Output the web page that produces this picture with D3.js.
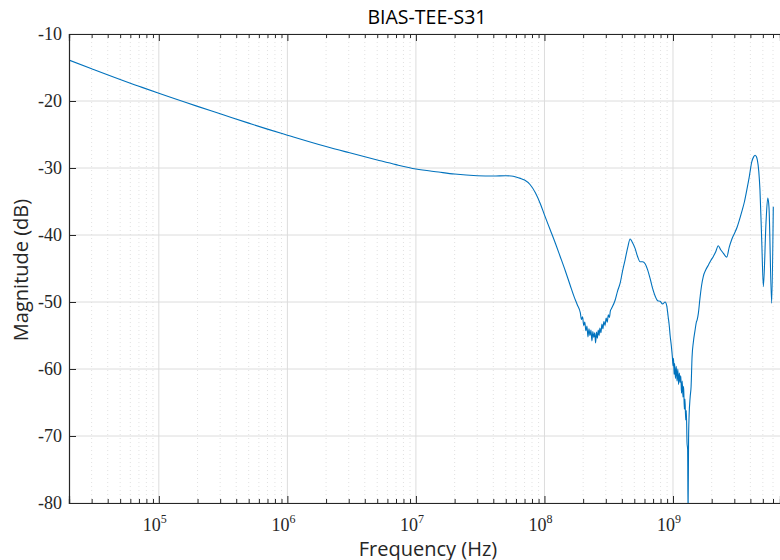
<!DOCTYPE html>
<head>
    <meta charset="utf-8">
    <title>BIAS-TEE-S31</title>
    <script src="https://d3js.org/d3.v7.min.js"></script>
    <style>
        body { margin: 0; background: #fff; }
    </style>
</head>
<body>
    <svg class="chart" width="780" height="560"></svg>
    <script>
        // frequency (Hz) and magnitude (dB)
        var freq = [2e4, 3e4, 5e4, 7e4, 1e5, 2e5, 3e5, 5e5, 7e5, 1e6, 2e6, 3e6, 5e6, 7e6, 1e7, 1.5e7, 2e7,
            3e7, 4e7, 5e7, 5.5e7, 6e7, 6.5e7, 7e7, 7.75e7, 8.5e7, 9.27e7, 1e8, 1.11e8, 1.22e8, 1.325e8,
            1.45e8, 1.585e8, 1.7e8, 1.8e8,
            1.90e8, 1.94e8, 1.98e8, 2.02e8, 2.06e8, 2.10e8, 2.14e8, 2.18e8, 2.22e8, 2.26e8, 2.30e8, 2.34e8,
            2.38e8, 2.42e8, 2.46e8, 2.50e8, 2.54e8, 2.58e8, 2.62e8, 2.66e8, 2.70e8, 2.75e8, 2.80e8, 2.85e8,
            2.90e8, 2.96e8, 3.02e8, 3.08e8, 3.14e8, 3.20e8, 3.26e8, 3.32e8,
            3.55e8, 3.7e8, 3.88e8, 4.05e8, 4.24e8, 4.45e8, 4.64e8, 4.8e8, 5.07e8, 5.3e8, 5.55e8, 5.8e8,
            6.07e8, 6.35e8, 6.64e8, 6.95e8, 7.26e8, 7.6e8, 7.94e8, 8.3e8, 8.68e8, 8.95e8, 9.17e8, 9.35e8,
            9.5e8, 9.7e8, 9.89e8, 1.0e9, 1.01e9, 1.02e9, 1.03e9, 1.045e9, 1.06e9, 1.075e9, 1.09e9, 1.105e9,
            1.12e9, 1.135e9, 1.15e9, 1.165e9, 1.18e9, 1.195e9, 1.21e9, 1.225e9, 1.24e9, 1.255e9, 1.27e9,
            1.286e9, 1.3e9, 1.31e9, 1.322e9, 1.334e9, 1.36e9, 1.383e9, 1.407e9, 1.44e9, 1.485e9, 1.52e9,
            1.54e9, 1.575e9, 1.62e9, 1.67e9, 1.72e9, 1.8e9, 1.883e9, 1.97e9, 2.06e9, 2.15e9, 2.25e9, 2.35e9,
            2.46e9, 2.62e9, 2.74e9, 2.86e9, 3.0e9, 3.13e9, 3.28e9, 3.43e9, 3.6e9, 3.75e9, 3.93e9, 4.1e9,
            4.25e9, 4.35e9, 4.45e9, 4.53e9, 4.65e9, 4.75e9, 4.9e9, 5.05e9, 5.29e9, 5.46e9, 5.58e9, 5.86e9,
            6.03e9];
        var mag = [-13.9, -15.2, -16.8, -17.8, -18.85, -20.8, -21.9, -23.3, -24.2, -25.1, -26.8, -27.7, -28.8,
            -29.5, -30.15, -30.6, -30.9, -31.15, -31.2, -31.15, -31.2, -31.35, -31.55, -31.8, -32.5, -33.7,
            -35.3, -37.0, -39.25, -41.3, -43.2, -45.3, -47.5, -49.2, -50.4,
            -51.6, -52.6, -52.2, -53.5, -53.0, -54.3, -53.6, -55.2, -54.0, -55.0, -54.2, -55.8,
            -54.4, -55.3, -54.6, -56.1, -54.5, -55.4, -54.2, -55.0, -53.9, -54.6, -53.3, -54.0,
            -52.9, -53.5, -52.4, -53.0, -51.9, -52.3, -51.3, -51.0,
            -49.7, -48.4, -47.2, -45.4, -43.7, -41.8, -40.6, -41.0, -42.0, -43.2, -44.0, -44.0,
            -44.3, -45.2, -46.5, -48.0, -49.1, -49.8, -49.9, -50.3, -50.0, -50.6, -52.2, -53.5,
            -55.0, -56.5, -58.2, -59.5, -58.4, -60.8, -59.2, -61.4, -59.6, -61.8, -60.0, -62.3,
            -60.6, -62.0, -61.0, -63.6, -61.8, -64.2, -62.6, -66.0, -64.5, -67.6, -66.2,
            -71.0, -72.0, -82, -70.5, -67.1, -64.2, -62.6, -58.2, -56.0, -54.2, -53.0,
            -52.7, -51.7, -49.5, -47.5, -46.2, -45.2, -44.5, -43.8, -43.2, -42.5, -41.6, -42.2,
            -42.7, -43.3, -41.8, -40.7, -39.8, -39.0, -37.8, -36.5, -35.0, -33.3, -31.2, -29.1,
            -28.3, -28.1, -28.3, -28.8, -30.5, -33.3, -40.7, -47.7, -38.2, -34.5, -35.8, -50.2,
            -35.8];
        var yTicks = [-80, -70, -60, -50, -40, -30, -20, -10];
        var xTicks = [1e5, 1e6, 1e7, 1e8, 1e9];
        var xExp = ["5", "6", "7", "8", "9"];

        var plotL = 69, plotR = 780, plotT = 34, plotB = 503;
        var svg = d3.select("svg");

        var x = d3.scaleLog().domain([2e4, 6.8e9]).range([plotL, plotR]);
        var y = d3.scaleLinear().domain([-80, -10]).range([plotB, plotT]);

        // minor log ticks 2..9 per decade
        var minor = [];
        for (var e = 4; e <= 9; e++) {
            for (var k = 2; k <= 9; k++) {
                var v = k * Math.pow(10, e);
                if (v > x.domain()[0] && v < x.domain()[1]) minor.push(v);
            }
        }

        // grid
        svg.append("g").selectAll("line").data(minor).enter().append("line")
            .attr("x1", function(d){ return x(d); }).attr("x2", function(d){ return x(d); })
            .attr("y1", plotT).attr("y2", plotB)
            .attr("stroke", "#d4d4d4").attr("stroke-width", 0.7).attr("stroke-dasharray", "1,3");
        svg.append("g").selectAll("line").data(xTicks).enter().append("line")
            .attr("x1", function(d){ return x(d); }).attr("x2", function(d){ return x(d); })
            .attr("y1", plotT).attr("y2", plotB)
            .attr("stroke", "#dcdcdc").attr("stroke-width", 1);
        svg.append("g").selectAll("line").data(yTicks).enter().append("line")
            .attr("x1", plotL).attr("x2", plotR)
            .attr("y1", function(d){ return y(d); }).attr("y2", function(d){ return y(d); })
            .attr("stroke", "#dcdcdc").attr("stroke-width", 1);

        // data line
        svg.append("clipPath").attr("id", "clip").append("rect")
            .attr("x", plotL).attr("y", plotT).attr("width", plotR - plotL).attr("height", plotB - plotT);
        var line = d3.line().curve(d3.curveMonotoneX)
            .x(function(d, i){ return x(freq[i]); }).y(function(d){ return y(d); });
        svg.append("path").datum(mag)
            .attr("clip-path", "url(#clip)")
            .attr("d", line)
            .attr("fill", "none").attr("stroke", "#0072BD").attr("stroke-width", 1.1)
            .attr("stroke-linejoin", "round");

        // axes (ticks inward)
        var axisColor = "#262626";
        var gx = svg.append("g").attr("transform", "translate(0," + plotB + ")")
            .call(d3.axisBottom(x).tickValues(xTicks).tickSize(-7).tickFormat(""));
        var gxm = svg.append("g").attr("transform", "translate(0," + plotB + ")")
            .call(d3.axisBottom(x).tickValues(minor).tickSize(-4).tickFormat(""));
        var gt = svg.append("g").attr("transform", "translate(0," + plotT + ")")
            .call(d3.axisTop(x).tickValues(xTicks).tickSize(-7).tickFormat(""));
        var gtm = svg.append("g").attr("transform", "translate(0," + plotT + ")")
            .call(d3.axisTop(x).tickValues(minor).tickSize(-4).tickFormat(""));
        var gy = svg.append("g").attr("transform", "translate(" + plotL + ",0)")
            .call(d3.axisLeft(y).tickValues(yTicks).tickSize(-7).tickPadding(7)
                .tickFormat(function(d){ return String(d); }));
        [gx, gxm, gt, gtm, gy].forEach(function(g){
            g.selectAll("path").attr("stroke", axisColor).attr("stroke-width", 1.2);
            g.selectAll("line").attr("stroke", axisColor);
        });
        gy.selectAll("text").attr("font-family", "Liberation Serif, serif")
            .attr("font-size", 18).attr("fill", axisColor);

        // x tick labels 10^n
        var lab = svg.append("g").selectAll("text").data(xTicks).enter().append("text")
            .attr("x", function(d){ return x(d) - 4; }).attr("y", 531)
            .attr("text-anchor", "middle")
            .attr("font-family", "Liberation Serif, serif").attr("font-size", 18).attr("fill", axisColor);
        lab.append("tspan").text("10");
        lab.append("tspan").attr("dy", -8).attr("font-size", 12).text(function(d, i){ return xExp[i]; });

        // title and axis labels
        svg.append("text").attr("x", 427).attr("y", 24).attr("text-anchor", "middle")
            .attr("font-family", "Open Sans, sans-serif").attr("font-size", 19.5).attr("fill", "#000")
            .text("BIAS-TEE-S31");
        svg.append("text").attr("x", 428).attr("y", 556).attr("text-anchor", "middle")
            .attr("font-family", "Open Sans, sans-serif").attr("font-size", 20).attr("fill", "#262626")
            .text("Frequency (Hz)");
        svg.append("text").attr("transform", "translate(28,270) rotate(-90)").attr("text-anchor", "middle")
            .attr("font-family", "Open Sans, sans-serif").attr("font-size", 20).attr("fill", "#262626")
            .text("Magnitude (dB)");
    </script>
</body>
